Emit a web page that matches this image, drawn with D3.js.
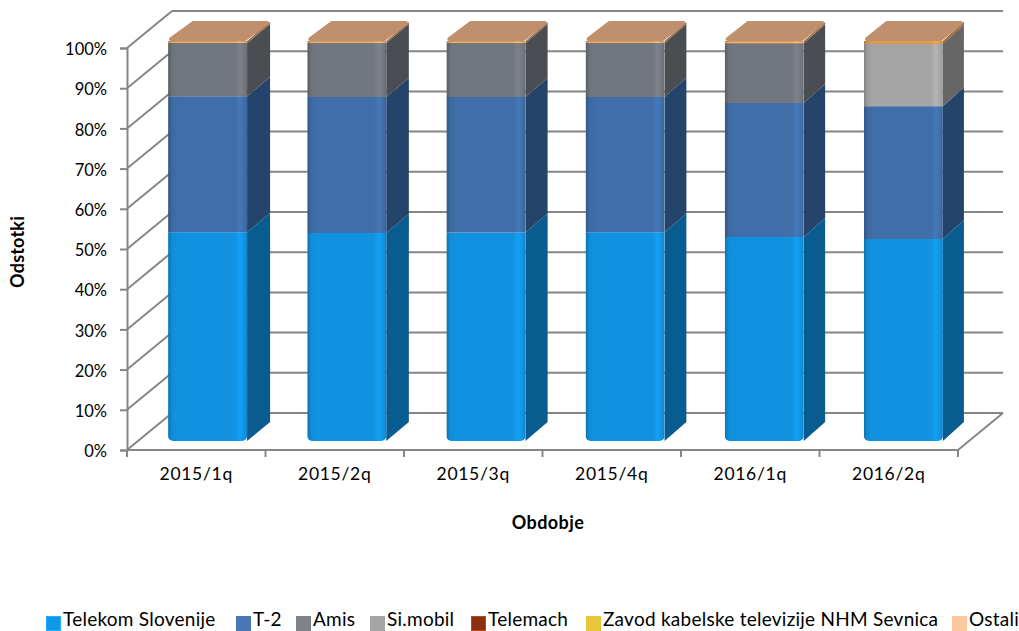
<!DOCTYPE html>
<html>
<head>
<meta charset="utf-8">
<script src="https://cdn.jsdelivr.net/npm/d3@7"></script>
<style>
  html, body { margin: 0; padding: 0; background: #fff; overflow: hidden; }
  text { font-family: Lato, "Open Sans", sans-serif; fill: #000; }
</style>
</head>
<body>
<script>
// Data (percent of each quarter)
const periods = ['2015/1q', '2015/2q', '2015/3q', '2015/4q', '2016/1q', '2016/2q'];
const telekom = [52.2, 52.0, 52.1, 52.2, 51.0, 50.5];
const t2 = [34.0, 34.0, 33.9, 33.8, 33.5, 33.2];
const amis = [13.3, 13.5, 13.5, 13.5, 14.9, 0];
const simobil = [0, 0, 0, 0, 0, 15.5];
const telemach = [0, 0, 0, 0, 0.1, 0.2];
const zavod = [0.1, 0.1, 0.1, 0.1, 0.1, 0.1];
const ostali = [0.4, 0.4, 0.4, 0.4, 0.4, 0.5];
const yTicks = [0, 10, 20, 30, 40, 50, 60, 70, 80, 90, 100];

const seriesNames = ['Telekom Slovenije', 'T-2', 'Amis', 'Si.mobil', 'Telemach', 'Zavod kabelske televizije NHM Sevnica', 'Ostali'];
const seriesValues = [telekom, t2, amis, simobil, telemach, zavod, ostali];
const frontColors = ['#1192e0', '#3f6ea8', '#72767e', '#a5a5a5', '#a8481c', '#d89a3c', '#dc9c48'];
const sideColors = ['#085c90', '#25446c', '#4a4d52', '#666666', '#6e2c10', '#8c5c20', '#8c6030'];
const legendColors = ['#1296e6', '#4a78b4', '#7f8389', '#a5a5a5', '#8c3010', '#e8c63a', '#fdc89b'];
const legendEdges = ['#22b0ff', '#4a78b4', '#7f8389', '#a5a5a5', '#b84a18', '#e8c63a', '#fdc89b'];

const width = 1019, height = 631;

// chart geometry
const wall = { dx: 45, dy: -37 };     // front plane to back wall
const barDepth = { dx: 23, dy: -19 };

const svg = d3.select('body').append('svg')
  .attr('width', width)
  .attr('height', height)
  .style('display', 'block');

const x = d3.scaleBand().domain(periods).range([127, 958]);
const y = d3.scaleLinear().domain([0, 100]).range([450, 48]);
// bars stand inside the box, so they get their own slightly wider, shifted scales
const xBar = d3.scaleBand().domain(periods).range([138, 973]);
const yBar = d3.scaleLinear().domain([0, 100]).range([441, 41]);

const gridColor = '#868686';

// gradients for the bar fronts
const defs = svg.append('defs');
frontColors.forEach((c, i) => {
  const base = d3.color(c);
  const grad = defs.append('linearGradient').attr('id', 'front-' + i);
  const stops = [
    [0, base.darker(0.7)], [0.05, base.darker(0.1)], [0.12, base], [0.84, base],
    [0.91, base.brighter(0.25)], [0.97, base], [1, base.darker(0.3)]
  ];
  stops.forEach(s => grad.append('stop').attr('offset', s[0]).attr('stop-color', s[1]));
});

// back wall and left wall grid
const grid = svg.append('g').attr('fill', 'none').attr('stroke', gridColor).attr('stroke-width', 2);
grid.selectAll('.back').data(yTicks).join('line')
  .attr('class', 'back')
  .attr('x1', 127 + wall.dx).attr('x2', 958 + wall.dx)
  .attr('y1', d => y(d) + wall.dy).attr('y2', d => y(d) + wall.dy);
grid.selectAll('.side').data(yTicks).join('line')
  .attr('class', 'side')
  .attr('x1', 127).attr('x2', 127 + wall.dx)
  .attr('y1', d => y(d)).attr('y2', d => y(d) + wall.dy);
grid.append('line')
  .attr('x1', 958).attr('y1', y(0))
  .attr('x2', 958 + wall.dx).attr('y2', y(0) + wall.dy);

// axes
const yAxis = d3.axisLeft(y).tickValues(yTicks).tickFormat(d => d + '%').tickSize(7).tickPadding(13);
const yG = svg.append('g').attr('transform', 'translate(127,0)').call(yAxis);
const xAxis = d3.axisBottom(x).tickSize(0).tickPadding(18);
const xG = svg.append('g').attr('transform', `translate(0,${y(0)})`).call(xAxis);
[yG, xG].forEach(g => {
  g.attr('font-family', null);
  g.selectAll('path, line').attr('stroke', gridColor).attr('stroke-width', 2);
});
yG.selectAll('text').attr('font-size', 16.5).attr('dy', '0.4em');
xG.selectAll('text').attr('font-size', 17.5).attr('letter-spacing', 0.7);
xG.select('.domain').attr('d', 'M127,0H958');
xG.selectAll('.edge').data(d3.range(periods.length + 1)).join('line')
  .attr('class', 'edge')
  .attr('x1', i => 127 + i * x.step()).attr('x2', i => 127 + i * x.step())
  .attr('y1', 0).attr('y2', 7)
  .attr('stroke', gridColor).attr('stroke-width', 2);

// bars
const rows = periods.map((p, i) => {
  const row = { period: p };
  seriesNames.forEach((s, j) => { row[s] = seriesValues[j][i]; });
  return row;
});
const stacked = d3.stack().keys(seriesNames)(rows);
const barWidth = 79;

periods.forEach((p, i) => {
  const g = svg.append('g');
  const x0 = xBar(p) + (xBar.step() - barWidth) / 2;
  const x1 = x0 + barWidth;
  const depthX = barDepth.dx - i * 0.4;  // side faces get narrower towards the right
  defs.append('clipPath').attr('id', 'bar-' + i).append('rect')
    .attr('x', x0).attr('y', yBar(100) - 6)
    .attr('width', barWidth).attr('height', yBar(0) - yBar(100) + 6)
    .attr('rx', 5);

  stacked.forEach((layer, j) => {
    const [a, b] = layer[i];
    if (b - a <= 0) return;
    const top = yBar(b), bot = yBar(a);
    g.append('polygon')
      .attr('points', [[x1, bot], [x1 + depthX, bot + barDepth.dy], [x1 + depthX, top + barDepth.dy], [x1, top]].join(' '))
      .attr('fill', sideColors[j]);
    g.append('rect')
      .attr('x', x0).attr('y', top)
      .attr('width', barWidth).attr('height', bot - top)
      .attr('fill', `url(#front-${j})`)
      .attr('clip-path', `url(#bar-${i})`);
  });

  // top cap, stroked so the corners come out round
  const t = yBar(100) - 2;
  g.append('polygon')
    .attr('points', [[x0 + 3, t], [x1 - 2, t], [x1 + depthX - 3, t + barDepth.dy + 3], [x0 + depthX + 2, t + barDepth.dy + 3]].join(' '))
    .attr('fill', '#c08f6d')
    .attr('stroke', '#c08f6d')
    .attr('stroke-width', 4)
    .attr('stroke-linejoin', 'round');
});

// axis titles
svg.append('text')
  .attr('x', 548).attr('y', 529)
  .attr('text-anchor', 'middle')
  .attr('font-size', 18).attr('letter-spacing', 0.4).attr('font-weight', 700)
  .text('Obdobje');
svg.append('text')
  .attr('transform', 'translate(24,252) rotate(-90)')
  .attr('text-anchor', 'middle')
  .attr('font-size', 18).attr('letter-spacing', 0.2).attr('font-weight', 700)
  .text('Odstotki');

// legend
const legendX = [46, 236, 296, 370, 471, 586, 952];
const legend = svg.append('g');
seriesNames.forEach((name, i) => {
  const item = legend.append('g').attr('transform', `translate(${legendX[i]},616)`);
  item.append('rect')
    .attr('x', 0.5).attr('y', 0.5)
    .attr('width', 14).attr('height', 14)
    .attr('fill', legendColors[i])
    .attr('stroke', legendEdges[i]);
  item.append('text')
    .attr('x', 17).attr('y', 10)
    .attr('font-size', 19)
    .attr('letter-spacing', 0.25)
    .text(name);
});
</script>
</body>
</html>
